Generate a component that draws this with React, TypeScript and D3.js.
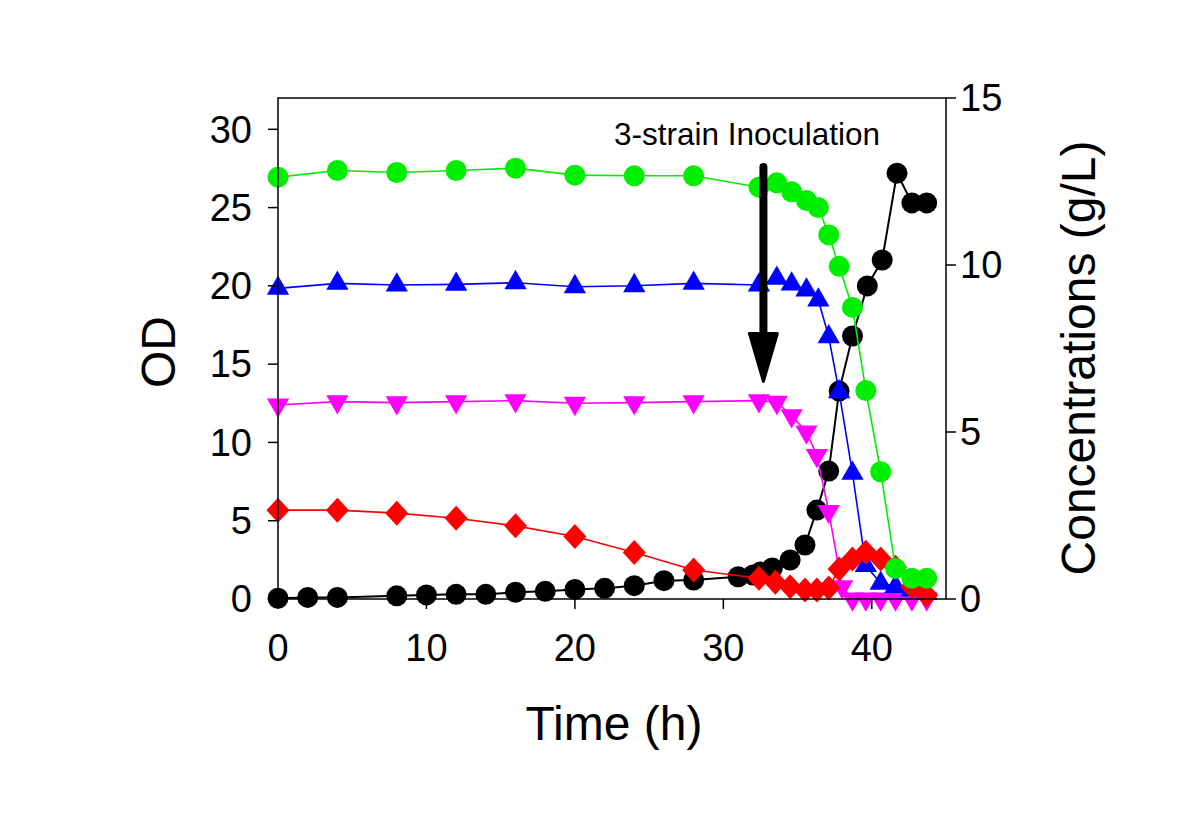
import React from "react";
import * as d3 from "d3";

// ---- Data ----
const odTime = [0, 2, 4, 8, 10, 12, 14, 16, 18, 20, 22, 24, 26, 28, 31, 32, 32.5, 33.3, 34.5, 35.5, 36.3, 37.1, 37.8, 38.7, 39.7, 40.7, 41.7, 42.7, 43.7];
const odValues = [0.05, 0.1, 0.1, 0.2, 0.26, 0.3, 0.3, 0.43, 0.49, 0.61, 0.68, 0.85, 1.17, 1.21, 1.42, 1.53, 1.72, 1.98, 2.49, 3.45, 5.68, 8.17, 13.28, 16.8, 20.0, 21.65, 27.2, 25.3, 25.3];

const concTime = [0, 4, 8, 12, 16, 20, 24, 28, 32.4, 33.6, 34.6, 35.6, 36.4, 37.1, 37.8, 38.7, 39.6, 40.6, 41.6, 42.7, 43.7];
const greenValues = [12.63, 12.83, 12.77, 12.83, 12.9, 12.69, 12.67, 12.67, 12.33, 12.46, 12.19, 11.93, 11.72, 10.9, 9.96, 8.73, 6.24, 3.81, 0.91, 0.62, 0.62];
const blueValues = [9.3, 9.45, 9.4, 9.42, 9.47, 9.35, 9.38, 9.45, 9.4, 9.6, 9.43, 9.25, 8.95, 7.85, 6.2, 3.76, 1.0, 0.47, 0.37, 0.27, 0.17];
const magentaTime = [0, 4, 8, 12, 16, 20, 24, 28, 32.4, 33.6, 34.6, 35.6, 36.3, 37.1, 38.0, 38.7, 39.6, 40.6, 41.6, 42.7, 43.7];
const magentaValues = [5.81, 5.91, 5.88, 5.91, 5.94, 5.86, 5.88, 5.91, 5.94, 5.89, 5.49, 5.0, 4.3, 2.62, 0.37, 0, 0, 0, 0, 0, 0];
const redTime = [0, 4, 8, 12, 16, 20, 24, 28, 32.4, 33.5, 34.5, 35.5, 36.3, 37.1, 37.8, 38.7, 39.6, 40.6, 41.6, 42.7, 43.7];
const redValues = [2.66, 2.66, 2.57, 2.42, 2.19, 1.87, 1.39, 0.87, 0.62, 0.5, 0.37, 0.27, 0.27, 0.33, 0.9, 1.2, 1.4, 1.2, 0.95, 0.37, 0.12];

const xTicks = [0, 10, 20, 30, 40];
const leftTicks = [0, 5, 10, 15, 20, 25, 30];
const rightTicks = [0, 5, 10, 15];
const arrowTime = 32.7;
const arrowTopOD = 27.6;
const arrowTipOD = 13.9;
const annotation = "3-strain Inoculation";

export default function App() {
  const W = 1200, H = 826;
  const left = 278, right = 946, top = 98, bottom = 599;
  const x = d3.scaleLinear().domain([0, 45]).range([left, right]);
  const yL = d3.scaleLinear().domain([0, 32]).range([bottom, top]);
  const yR = d3.scaleLinear().domain([0, 15]).range([bottom, top]);

  const font = "Arial, 'Liberation Sans', sans-serif";

  const mkLine = (ts: number[], vs: number[], y: d3.ScaleLinear<number, number>) =>
    d3.line<number>().x((_, i) => x(ts[i])).y((v) => y(v))(vs) || "";

  const circle = d3.symbol().type(d3.symbolCircle).size(Math.PI * 10.5 * 10.5)() || "";
  const tri = d3.symbol().type(d3.symbolTriangle).size(215)() || "";
  const diamond = "M0,-12.5L11.5,0L0,12.5L-11.5,0Z";

  const series = [
    { key: "black", ts: odTime, vs: odValues, y: yL, color: "#000000", sym: circle, rot: 0, lw: 2 },
    { key: "magenta", ts: magentaTime, vs: magentaValues, y: yR, color: "#ff00ff", sym: tri, rot: 180, lw: 1.6 },
    { key: "blue", ts: concTime, vs: blueValues, y: yR, color: "#0000ff", sym: tri, rot: 0, lw: 1.6 },
    { key: "red", ts: redTime, vs: redValues, y: yR, color: "#ff0000", sym: diamond, rot: 0, lw: 1.6 },
    { key: "green", ts: concTime, vs: greenValues, y: yR, color: "#00ee00", sym: circle, rot: 0, lw: 1.6 },
  ];

  const ax = x(arrowTime);
  const aTop = yL(arrowTopOD);
  const aTip = yL(arrowTipOD);

  return (
    <svg width={W} height={H} style={{ position: "absolute", left: 0, top: 0, background: "#fff" }}>
      <rect x={0} y={0} width={W} height={H} fill="#fff" />
      {/* series */}
      {series.map((s) => (
        <g key={s.key}>
          <path d={mkLine(s.ts, s.vs, s.y)} fill="none" stroke={s.color} strokeWidth={s.lw} />
          {s.vs.map((v, i) => (
            <path
              key={i}
              d={s.sym}
              transform={`translate(${x(s.ts[i])},${s.y(v)}) rotate(${s.rot})`}
              fill={s.color}
            />
          ))}
        </g>
      ))}
      {/* arrow */}
      <line x1={ax} x2={ax} y1={aTop} y2={aTip - 40} stroke="#000" strokeWidth={8} strokeLinecap="round" />
      <path
        d={`M${ax - 14},${aTip - 48} L${ax + 14},${aTip - 48} L${ax},${aTip} Z`}
        fill="#000"
        stroke="#000"
        strokeWidth={3}
        strokeLinejoin="round"
      />
      <text x={747} y={145} textAnchor="middle" fontFamily={font} fontSize={31.5} fill="#000">
        {annotation}
      </text>
      {/* frame */}
      <rect x={left} y={top} width={right - left} height={bottom - top} fill="none" stroke="#000" strokeWidth={1.5} />
      {/* left axis */}
      {leftTicks.map((t) => (
        <g key={"l" + t}>
          <line x1={left - 10} x2={left} y1={yL(t)} y2={yL(t)} stroke="#000" strokeWidth={1.5} />
          <text x={left - 26} y={yL(t)} dy="0.35em" textAnchor="end" fontFamily={font} fontSize={38} fill="#000">
            {t}
          </text>
        </g>
      ))}
      {/* right axis */}
      {rightTicks.map((t) => (
        <g key={"r" + t}>
          <line x1={right} x2={right + 10} y1={yR(t)} y2={yR(t)} stroke="#000" strokeWidth={1.5} />
          <text x={right + 14} y={yR(t)} dy="0.35em" textAnchor="start" fontFamily={font} fontSize={38} fill="#000">
            {t}
          </text>
        </g>
      ))}
      {/* bottom axis */}
      {xTicks.map((t) => (
        <g key={"x" + t}>
          <line x1={x(t)} x2={x(t)} y1={bottom} y2={bottom + 10} stroke="#000" strokeWidth={1.5} />
          <text x={x(t)} y={bottom + 49} dy="0.35em" textAnchor="middle" fontFamily={font} fontSize={38} fill="#000">
            {t}
          </text>
        </g>
      ))}
      {/* titles */}
      <text x={614} y={740} textAnchor="middle" fontFamily={font} fontSize={48} fill="#000">
        Time (h)
      </text>
      <text
        transform={`translate(175,352) rotate(-90)`}
        textAnchor="middle"
        fontFamily={font}
        fontSize={48}
        fill="#000"
      >
        OD
      </text>
      <text
        transform={`translate(1095,358) rotate(-90)`}
        textAnchor="middle"
        fontFamily={font}
        fontSize={48}
        fill="#000"
      >
        Concentrations (g/L)
      </text>
    </svg>
  );
}
